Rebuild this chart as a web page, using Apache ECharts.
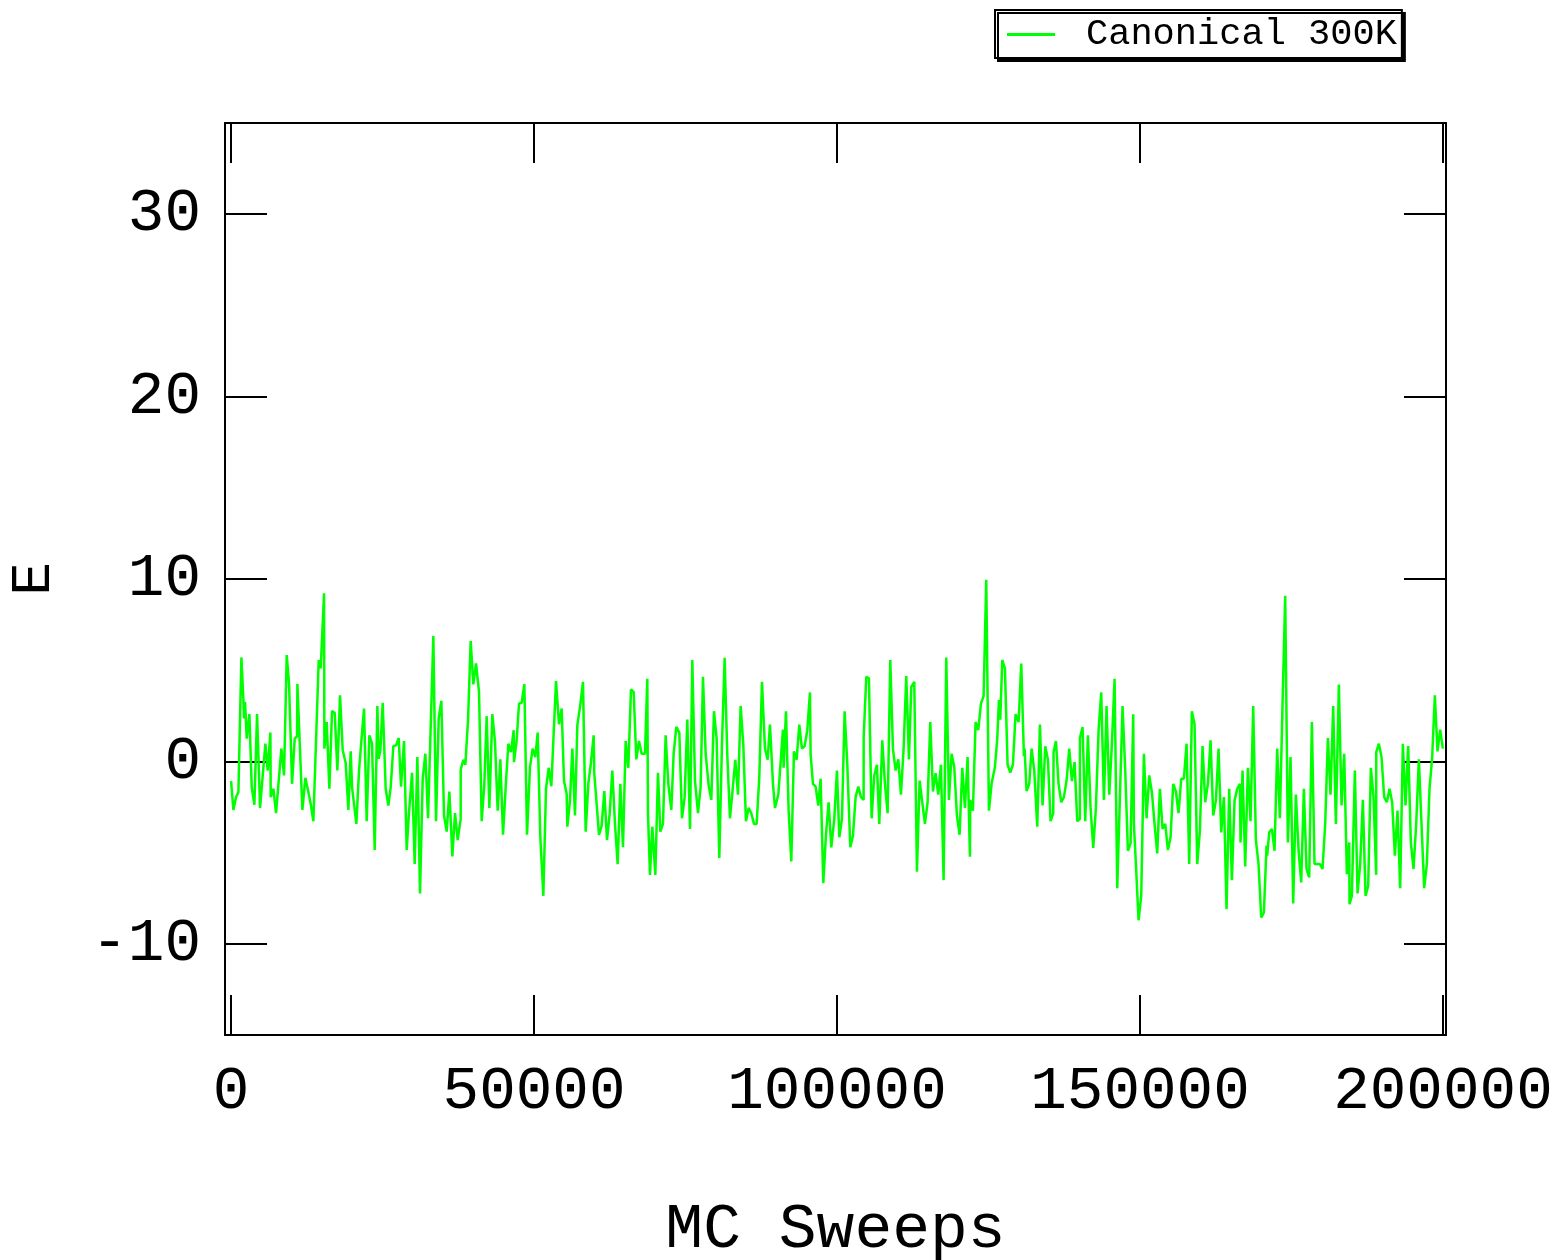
<!DOCTYPE html>
<html>
<head>
<meta charset="utf-8">
<script src="https://cdn.jsdelivr.net/npm/echarts@6/dist/echarts.min.js"></script>
<style>html,body{margin:0;padding:0;background:#fff;}#chart{width:1562px;height:1260px;}</style>
</head>
<body>
<div id="chart"></div>
<script>
const seriesName = 'Canonical 300K';
const xTickValues = [0, 50000, 100000, 150000, 200000];
const yTickValues = [-10, 0, 10, 20, 30];

const sweeps = [
0,385,825,1210,1705,2035,2145,2310,2585,3025,
3410,3850,4290,4785,5665,6050,6490,6545,6985,7425,
7865,8305,8745,9185,9570,10065,10505,10900,10945,11770,
12265,12705,13145,13585,14465,14795,15345,15400,15785,16225,
16665,
17105,17545,17985,18425,18920,19360,19745,19965,20240,20680,
21120,21560,21945,22385,22825,23265,23705,24145,24365,24640,
25025,25520,25960,26345,26785,27225,27665,28050,28545,28985,
29315,29535,29865,30305,30745,31185,31625,32065,32505,33385,
33825,34265,34705,
35145,35585,36025,36520,36960,37400,37895,37900,38335,38665,
39105,39545,39985,40425,40920,41360,41800,42185,42625,43120,
43560,44000,44440,44880,45320,45760,46200,46640,46695,47135,
47520,47960,48400,48840,49335,49775,50215,50600,51040,51535,
51975,52415,52855,
53625,54120,54560,54945,55385,55495,55935,56320,56760,57145,
57585,58080,58520,58960,59400,59840,59950,60335,60720,61160,
61600,62040,62480,62920,63360,63800,64240,64680,65120,65560,
66000,66440,66880,67320,67760,68310,68695,68805,69135,69520,
70015,70455,70840,71280,
71720,72160,72655,73040,73480,73975,74415,74855,75295,75735,
76120,76560,77055,77495,77825,77880,78320,78815,79255,79695,
80135,80575,81015,81455,81895,82335,82775,83215,83655,84095,
84535,84975,85415,85855,86295,86735,87175,87615,88110,88550,
88935,89430,89760,
90310,91080,91190,91575,92015,92455,92895,93335,93775,94215,
94655,95095,95535,95645,96030,96470,96910,97295,97735,98175,
98615,99055,99550,99990,100375,100815,101255,101695,102190,102630,
103070,103510,103950,104390,104400,104830,105270,105710,106150,106590,
106975,107470,107910,
108350,108790,109230,109670,110110,110550,110990,111430,111870,112255,
112750,113190,113630,114070,114510,114950,115390,115830,116270,116710,
117150,117590,118030,118470,118910,119350,119790,120230,120670,121110,
121550,121935,121990,122430,122870,123310,123750,124190,124630,125070,
125510,126060,
126445,126720,126940,127270,127710,128150,128590,129030,129470,129965,
130405,130845,130955,131230,131285,131725,132110,132550,133045,133485,
133925,134365,134805,135245,135685,135740,136125,136565,137005,137445,
137885,138325,138765,139205,139645,140085,140090,140525,140965,141405,
141845,142285,142725,143165,143605,144045,
144485,144925,145365,145805,146245,146685,147125,147565,148005,148445,
148885,148995,149325,149765,150205,150645,151085,151525,151965,152405,
152845,153285,153725,154165,154605,155045,155485,155925,156365,156805,
157245,157685,158125,158565,159005,159445,159885,160325,160765,161205,
161645,162085,
162525,162965,163405,163845,164285,164725,165165,165605,166045,166485,
166595,166925,167365,167805,168245,168685,169125,169565,170005,170445,
170885,170995,171325,171765,172205,172645,173085,173525,173965,174405,
174845,175285,175725,176165,176605,177045,177485,177925,178365,178805,
179685,180125,
180565,181005,181445,181885,182325,182820,183260,183700,184140,184525,
184580,184965,185460,185900,186340,186780,187220,187660,188100,188540,
188980,188990,189420,189860,190300,190740,191180,191620,192060,192500,
192940,193380,193820,194260,194700,195140,195580,196020,196460,196900,
197340,197780,198220,198660,199100,199540,199980
];

const energy = [
-1.08,-2.66,-1.96,-1.69,5.70,3.36,2.35,3.26,1.25,2.59,
-1.41,-2.38,2.59,-2.55,0.97,-0.50,1.58,-1.96,-1.50,-2.84,
-1.05,0.70,-0.77,5.83,4.27,-1.23,1.25,1.39,4.24,-2.66,
-0.90,-1.60,-2.33,-3.28,5.56,5.10,9.22,0.70,2.16,-1.50,
2.77,
2.66,-0.50,3.63,0.61,-0.09,-2.66,0.55,-1.41,-1.50,-3.43,
-0.50,1.34,2.90,-3.28,1.43,0.97,-4.86,3.04,0.15,0.61,
3.21,-1.50,-2.42,-1.41,0.84,0.88,1.28,-1.38,1.12,-4.86,
-3.06,-2.97,-0.62,-5.63,0.24,-7.24,-0.95,0.42,-3.12,6.88,
-3.28,2.35,3.32,
-2.97,-3.85,-1.65,-5.21,-2.84,-4.31,-3.15,-0.46,0.09,-0.18,
2.26,6.60,4.22,5.37,3.81,-3.28,-1.23,2.48,-2.55,2.59,
1.06,-2.70,0.11,-4.02,-1.41,0.97,0.51,1.71,-0.04,1.16,
3.17,3.21,4.24,-4.02,-0.31,0.70,0.24,1.58,-4.16,-7.37,
-1.50,-0.35,-1.36,
4.40,2.04,2.90,-1.08,-1.78,-3.58,-2.15,0.70,-2.97,1.98,
2.99,4.36,-3.85,-1.23,-0.04,1.43,-0.68,-2.33,-4.03,-3.52,
-1.63,-4.31,-2.88,-0.50,-3.43,-5.63,-1.23,-4.71,1.12,-0.35,
3.94,3.81,0.11,1.12,0.42,0.42,4.53,-2.88,-6.22,-3.58,
-6.22,-0.62,-3.85,-3.43,
1.43,-1.23,-2.66,0.42,1.89,1.58,-3.12,-1.96,2.29,-3.70,
5.56,-1.05,-2.84,-1.38,-1.38,4.64,0.42,-1.32,-2.11,2.75,
1.25,-5.30,0.97,5.68,0.33,-3.12,-1.56,0.09,-1.82,3.04,
0.92,-3.28,-2.55,-2.84,-3.43,-3.43,-0.86,4.36,0.70,0.09,
2.02,-1.23,-2.55,
-1.82,1.74,-0.35,2.75,-2.70,-5.48,0.55,0.09,2.02,0.70,
0.84,1.71,3.78,0.39,-1.23,-1.38,-2.42,-0.95,-6.67,-4.03,
-2.24,-4.71,-3.15,-0.50,-4.16,-3.15,2.75,-0.13,-4.71,-4.07,
-1.96,-1.38,-1.96,-2.11,1.34,4.64,4.55,-3.12,-0.77,-0.18,
-3.43,1.16,-1.23,
-2.84,5.56,0.70,-0.50,0.11,-1.82,0.70,4.68,0.11,4.09,
4.36,-6.05,-1.05,-2.24,-3.43,-2.24,2.16,-1.65,-0.64,-1.82,
-0.18,-6.51,5.70,-2.11,0.42,-0.31,-2.97,-4.02,-0.35,-2.55,
0.24,-5.23,-2.11,-2.70,2.16,1.71,3.17,3.58,9.96,-2.70,
-1.23,-0.31,
1.25,3.36,2.29,5.56,5.10,-0.17,-0.62,-0.17,2.59,2.16,
5.37,0.28,0.70,0.70,-1.63,-1.23,0.70,-0.50,-3.58,2.02,
-2.42,0.83,0.11,-3.28,-2.84,0.51,1.12,-1.23,-2.24,-1.96,
-1.05,0.70,-1.08,-0.04,-3.28,-3.15,1.28,1.89,-3.28,1.43,
-2.55,-4.75,-2.55,1.71,3.78,-2.11,
3.04,-1.82,0.97,4.53,-6.95,-1.96,3.04,-0.50,-4.90,-4.49,
2.59,-3.43,-5.63,-8.71,-7.37,0.42,-3.12,-0.77,-1.69,-3.43,
-5.04,-1.50,-3.70,-3.43,-4.86,-4.16,-1.23,-1.65,-2.84,-0.95,
-0.95,0.97,-5.63,2.75,2.02,-5.63,-3.80,0.84,-2.24,-1.23,
1.16,-2.97,
-2.15,0.70,-3.89,-1.96,-8.10,-1.50,-6.51,-2.15,-1.50,-1.23,
-4.44,-0.50,-5.76,-0.35,-3.28,3.04,-4.31,-5.63,-8.56,-8.29,
-4.62,-5.17,-3.89,-3.70,-4.90,0.70,-3.12,3.17,9.08,-4.44,
0.24,-7.79,-1.82,-4.86,-6.64,-1.50,-5.90,-6.36,2.16,-5.63,
-5.63,-5.90,
-3.43,1.28,-1.82,3.04,-3.43,4.22,-2.42,0.42,-6.18,-4.44,
-7.83,-7.37,-0.50,-7.24,-5.63,-2.11,-7.37,-6.82,-0.35,-1.96,
-6.22,0.51,0.97,0.24,-1.96,-2.24,-1.50,-2.24,-5.17,-2.70,
-6.95,0.97,-2.42,0.84,-4.44,-5.90,-3.43,0.11,-3.43,-6.95,
-5.63,-1.50,0.24,3.63,0.55,1.74,0.70
];

const FONT = 'Liberation Mono';
const data = sweeps.map((x, i) => [x, energy[i]]);
const plain = v => String(v);

const frameLine = { show: true, onZero: false, lineStyle: { color: '#000', width: 2 } };
const tickX = { show: true, inside: true, length: 40, lineStyle: { color: '#000', width: 2 }, customValues: xTickValues };
const tickY = { show: true, inside: true, length: 42, lineStyle: { color: '#000', width: 2 }, customValues: yTickValues };

const chart = echarts.init(document.getElementById('chart'), null, { renderer: 'canvas' });
chart.setOption({
  animation: false,
  backgroundColor: '#fff',
  legend: {
    data: [seriesName],
    icon: 'rect',
    left: 995, top: 10,
    padding: [6, 5, 5, 12],
    itemWidth: 48, itemHeight: 3,
    backgroundColor: '#fff',
    borderColor: '#000', borderWidth: 2,
    shadowColor: '#000', shadowBlur: 0, shadowOffsetX: 3, shadowOffsetY: 3,
    textStyle: { fontFamily: FONT, fontSize: 37, color: '#000', padding: [0, 0, 0, 26] }
  },
  grid: { left: 225, right: 116, top: 123, bottom: 225, containLabel: false, outerBoundsMode: 'none' },
  xAxis: [
    {
      type: 'value', min: -1000, max: 200500, position: 'bottom',
      axisLine: frameLine, axisTick: tickX, splitLine: { show: false },
      axisLabel: { customValues: xTickValues, formatter: plain, fontFamily: FONT, fontSize: 61, color: '#000', margin: 26 },
      name: 'MC Sweeps', nameLocation: 'middle', nameGap: 164,
      nameTextStyle: { fontFamily: FONT, fontSize: 63, color: '#000' }
    },
    {
      type: 'value', min: -1000, max: 200500, position: 'top',
      axisLine: frameLine, axisTick: tickX, splitLine: { show: false },
      axisLabel: { show: false }
    }
  ],
  yAxis: [
    {
      type: 'value', min: -15, max: 35, position: 'left',
      axisLine: frameLine, axisTick: tickY, splitLine: { show: false },
      axisLabel: { customValues: yTickValues, formatter: plain, fontFamily: FONT, fontSize: 61, color: '#000', margin: 24 },
      name: 'E', nameLocation: 'middle', nameGap: 163,
      nameTextStyle: { fontFamily: FONT, fontSize: 56, color: '#000' }
    },
    {
      type: 'value', min: -15, max: 35, position: 'right',
      axisLine: frameLine, axisTick: tickY, splitLine: { show: false },
      axisLabel: { show: false }
    }
  ],
  series: [{
    name: seriesName, type: 'line', xAxisIndex: 0, yAxisIndex: 0,
    data: data, showSymbol: false, symbol: 'none',
    lineStyle: { color: '#00ff00', width: 2.5 }, itemStyle: { color: '#00ff00' }
  }]
});
</script>
</body>
</html>
